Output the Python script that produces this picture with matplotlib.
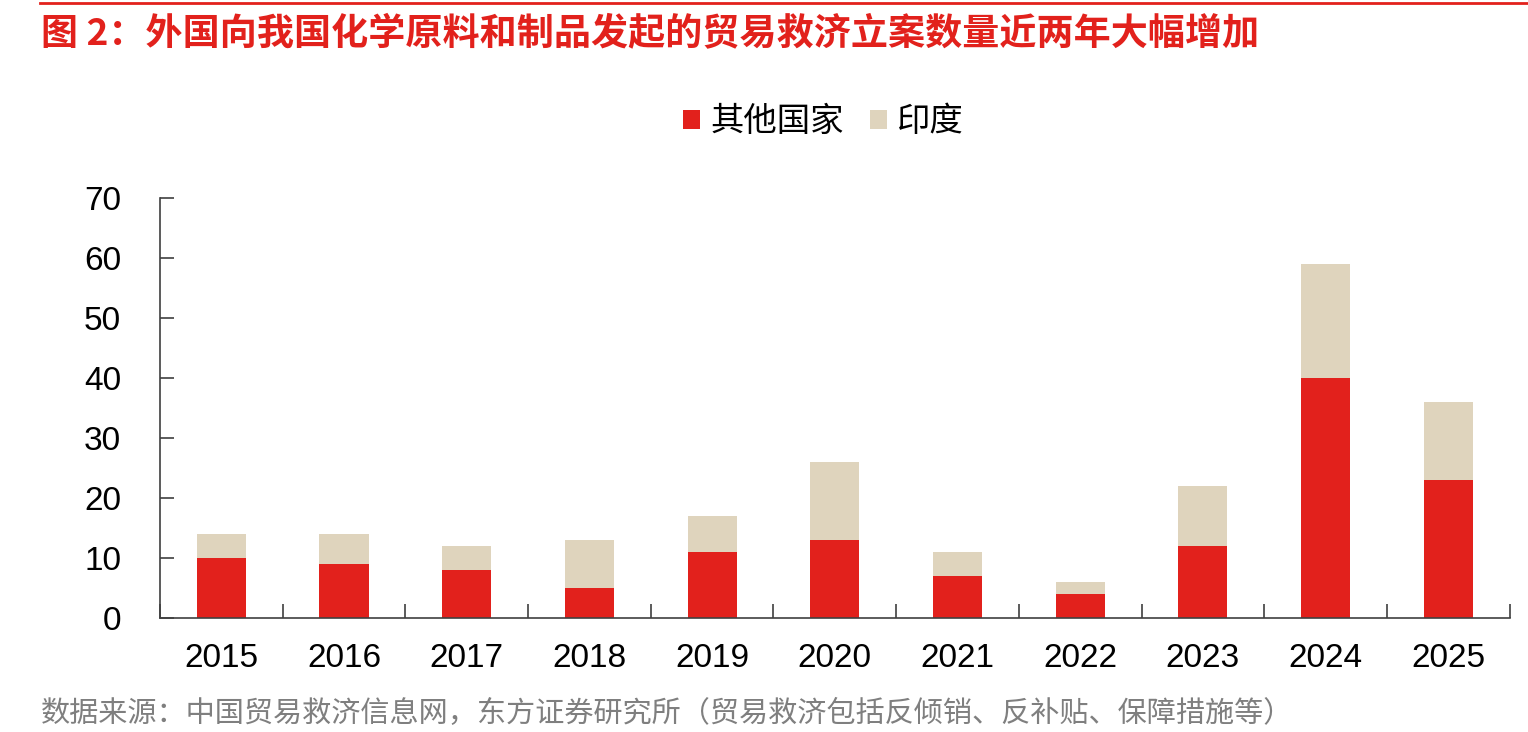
import numpy as np
import matplotlib.pyplot as plt
from matplotlib.lines import Line2D
from matplotlib.ticker import FixedLocator

plt.rcParams['font.family'] = ['Liberation Sans', 'Noto Sans CJK SC', 'DejaVu Sans']

years = ["2015", "2016", "2017", "2018", "2019", "2020", "2021", "2022", "2023", "2024", "2025"]
other = [10, 9, 8, 5, 11, 13, 7, 4, 12, 40, 23]   # 其他国家
india = [4, 5, 4, 8, 6, 13, 4, 2, 10, 19, 13]     # 印度

red = "#E2211C"
beige = "#DFD4BD"
cjk = ['Noto Sans CJK SC', 'DejaVu Sans']

fig = plt.figure(figsize=(15.28, 7.32), dpi=100)
ax = fig.add_axes([0.1047, 0.1557, 0.8833, 0.5738])

x = np.arange(len(years))
ax.bar(x, other, width=0.4, color=red, label="其他国家")
ax.bar(x, india, width=0.4, bottom=other, color=beige, label="印度")

ax.set_xlim(-0.5, len(years) - 0.5)
ax.set_ylim(0, 70)
ax.set_yticks(range(0, 71, 10))
ax.set_xticks(x)
ax.set_xticklabels(years)
ax.xaxis.set_minor_locator(FixedLocator(np.arange(-0.5, len(years), 1)))

for s in ["top", "right"]:
    ax.spines[s].set_visible(False)
for s in ["left", "bottom"]:
    ax.spines[s].set_color("#404040")
    ax.spines[s].set_linewidth(1.2)

ax.tick_params(axis="x", which="major", length=0, pad=18, labelsize=24)
ax.tick_params(axis="x", which="minor", direction="in", length=10, color="#404040", width=1.2)
ax.tick_params(axis="y", direction="in", length=10, color="#404040", width=1.2, pad=28, labelsize=24)

ax.legend(loc="center", bbox_to_anchor=(0.539, 0.834), bbox_transform=fig.transFigure,
          ncol=2, frameon=False, prop={"family": cjk, "size": 24},
          handlelength=0.5, handleheight=0.5, handletextpad=0.3, columnspacing=0.8)

fig.text(0.027, 0.954, "图 2：外国向我国化学原料和制品发起的贸易救济立案数量近两年大幅增加",
         color=red, fontsize=26.7, fontweight="bold", family=cjk, va="center", ha="left")
fig.text(0.027, 0.025, "数据来源：中国贸易救济信息网，东方证券研究所（贸易救济包括反倾销、反补贴、保障措施等）",
         color="#7F7F7F", fontsize=21, family=cjk, va="center", ha="left")

fig.add_artist(Line2D([0.026, 1.0], [0.996, 0.996], color=red, linewidth=2, transform=fig.transFigure))

fig.savefig("out.png", dpi=100)
